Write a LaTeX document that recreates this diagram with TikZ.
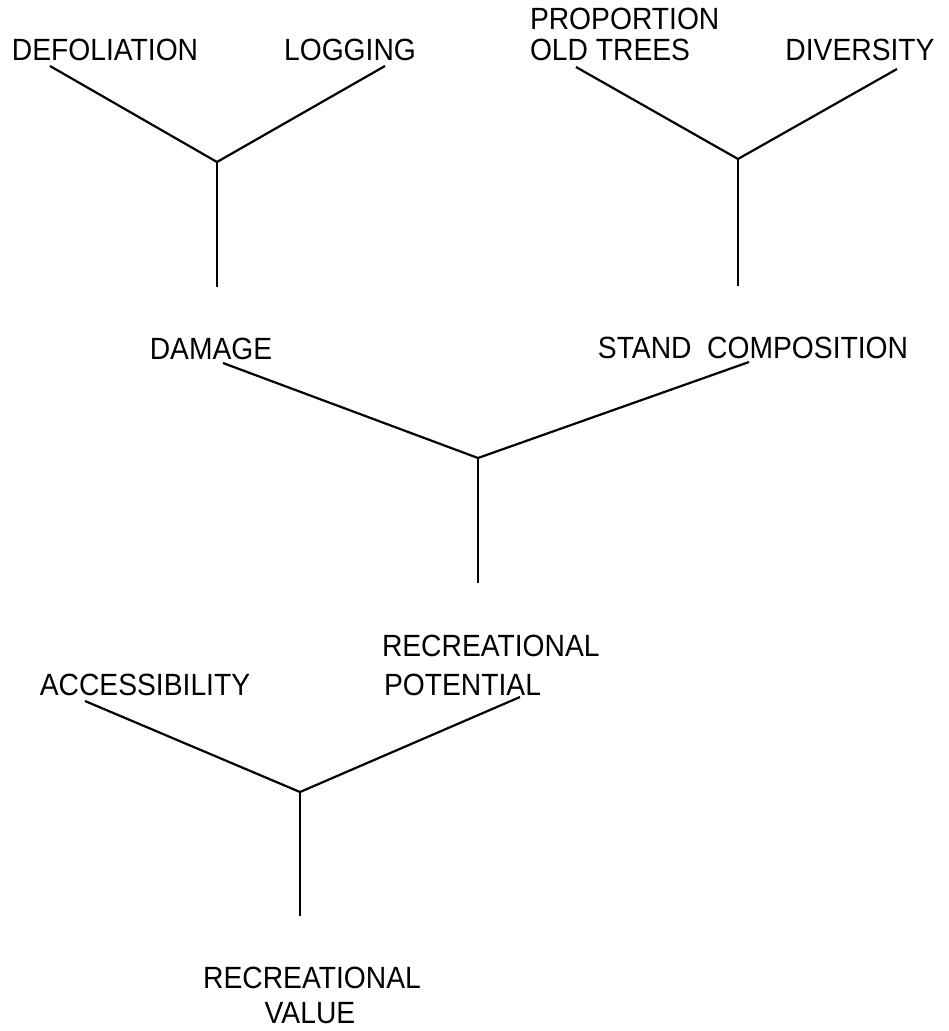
\documentclass[tikz,border=0pt]{standalone}
\usepackage{fontspec}
\setmainfont{Liberation Sans}[FakeStretch=0.92]
\begin{document}
\begin{tikzpicture}[x=1pt,y=-1pt,
  lbl/.style={inner sep=0pt,outer sep=0pt,font=\fontsize{30.7}{38}\selectfont,anchor=base},
  lblw/.style={lbl,anchor=base west},
  branch/.style={draw=black,line width=2.2pt,line cap=butt,line join=miter}]
\useasboundingbox[fill=white] (0,0) rectangle (948,1031);
% labels
\node[lbl] (defol) at (105,60) {DEFOLIATION};
\node[lbl] (logg) at (350,60) {LOGGING};
\node[lblw] (prop) at (530,29) {PROPORTION};
\node[lblw] (old) at (530,60) {OLD TREES};
\node[lbl] (div) at (860,60) {DIVERSITY};
\node[lbl] (dam) at (211,359) {DAMAGE};
\node[lbl] (stand) at (753,358) {STAND\ \ COMPOSITION};
\node[lblw] (recp) at (382,656) {RECREATIONAL};
\node[lblw] (pot) at (384,695) {POTENTIAL};
\node[lbl] (acc) at (145,695) {ACCESSIBILITY};
\node[lbl] (recv) at (312,988) {RECREATIONAL};
\node[lbl] (val) at (310,1023) {VALUE};
% coordinates
\coordinate (a1) at (50,66);   \coordinate (b1) at (385,66);
\coordinate (j1) at (217,162); \coordinate (e1) at (217,287);
\coordinate (a2) at (576,67);  \coordinate (b2) at (897,69);
\coordinate (j2) at (738,159); \coordinate (e2) at (738,286);
\coordinate (a3) at (223,363); \coordinate (b3) at (749,362);
\coordinate (j3) at (478,458); \coordinate (e3) at (478,583);
\coordinate (a4) at (85,701);  \coordinate (b4) at (520,697);
\coordinate (j4) at (300,792); \coordinate (e4) at (300,916);
% connectors
\draw[branch] (a1) -- (j1) -- (b1); \draw[branch] (j1) -- (e1);
\draw[branch] (a2) -- (j2) -- (b2); \draw[branch] (j2) -- (e2);
\draw[branch] (a3) -- (j3) -- (b3); \draw[branch] (j3) -- (e3);
\draw[branch] (a4) -- (j4) -- (b4); \draw[branch] (j4) -- (e4);
\end{tikzpicture}
\end{document}
